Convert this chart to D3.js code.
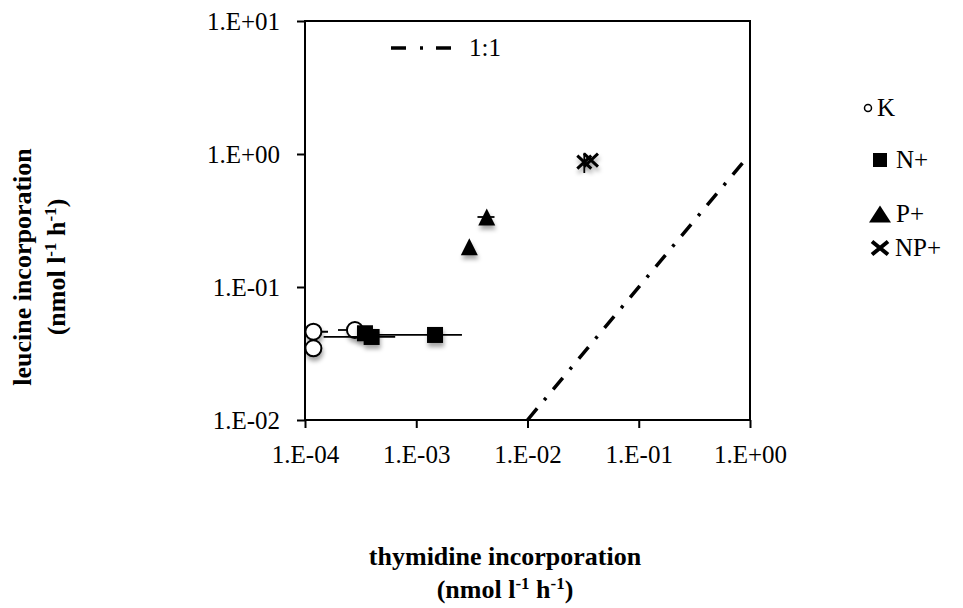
<!DOCTYPE html>
<html>
<head>
<meta charset="utf-8">
<script src="https://cdn.jsdelivr.net/npm/d3@7"></script>
<style>
body { margin: 0; background: #fff; }
svg text { font-family: "Liberation Serif", "Times New Roman", serif; fill: #000; }
</style>
</head>
<body>
<svg width="963" height="608"></svg>
<script>
// data (thymidine = x, leucine = y)
var kX = [1.19e-4, 1.19e-4, 2.81e-4],
    kY = [0.0461, 0.0346, 0.0475],
    kXErr = [0.42e-4, 0, 0.83e-4];

var nX = [3.46e-4, 3.97e-4, 1.475e-3],
    nY = [0.0449, 0.0421, 0.0436],
    nXErr = [0, 2.5e-4, 1.1e-3];

var pX = [3.0e-3, 4.3e-3],
    pY = [0.201, 0.336],
    pXErr = [0, 0.75e-3];

var npX = [0.0324, 0.0372],
    npY = [0.87, 0.90],
    npYErr = [0.15, 0];

var oneToOne = [0.01, 0.86];

var xTicks = [1e-4, 1e-3, 1e-2, 1e-1, 1],
    yTicks = [1e-2, 1e-1, 1, 10];

var seriesNames = ["K", "N+", "P+", "NP+"];

var svg = d3.select("svg"),
    margin = { top: 21, right: 213, bottom: 188, left: 305 },
    width = +svg.attr("width") - margin.left - margin.right,
    height = +svg.attr("height") - margin.top - margin.bottom;

var x = d3.scaleLog().domain([1e-4, 1]).range([0, width]),
    y = d3.scaleLog().domain([1e-2, 10]).range([height, 0]);

// Excel style "1.E-04"
function sci(d) {
    var e = Math.round(Math.log10(d));
    return "1.E" + (e < 0 ? "-" : "+") + String(Math.abs(e)).padStart(2, "0");
}

var defs = svg.append("defs");
defs.append("clipPath").attr("id", "plotclip")
    .append("rect").attr("width", width).attr("height", height);
var f = defs.append("filter").attr("id", "shadow")
    .attr("x", "-50%").attr("y", "-50%").attr("width", "200%").attr("height", "200%");
f.append("feDropShadow").attr("dx", 1).attr("dy", 4).attr("stdDeviation", 2)
    .attr("flood-color", "#000").attr("flood-opacity", 0.35);

var g = svg.append("g")
    .attr("transform", "translate(" + margin.left + "," + margin.top + ")");

// assen
g.append("g")
    .attr("transform", "translate(0," + height + ")")
    .call(d3.axisBottom(x).tickValues(xTicks).tickFormat(sci).tickSize(8).tickSizeOuter(0))
    .call(function (a) {
        a.select(".domain").remove();
        a.selectAll("line").attr("stroke", "#000").attr("stroke-width", 2);
        a.selectAll("text").attr("y", 43).attr("dy", 0)
            .attr("font-size", "25px").attr("fill", "#000");
    });

g.append("g")
    .call(d3.axisLeft(y).tickValues(yTicks).tickFormat(sci).tickSize(8).tickSizeOuter(0))
    .call(function (a) {
        a.select(".domain").remove();
        a.selectAll("line").attr("stroke", "#000").attr("stroke-width", 2);
        a.selectAll("text").attr("x", -25).attr("dy", "0.35em")
            .attr("font-size", "25px").attr("fill", "#000");
    });

g.append("rect")
    .attr("width", width).attr("height", height)
    .attr("fill", "none").attr("stroke", "#000").attr("stroke-width", 2);

var plot = g.append("g").attr("clip-path", "url(#plotclip)");

// 1:1 lijn
plot.append("path")
    .datum(oneToOne)
    .attr("fill", "none").attr("stroke", "#000").attr("stroke-width", 3.5)
    .attr("stroke-dasharray", "15,11,3,11")
    .attr("d", d3.line().x(function (d) { return x(d); }).y(function (d) { return y(d); }));

function zip(xs, ys, xe, ye) {
    return xs.map(function (v, i) {
        return { x: v, y: ys[i], xe: xe ? xe[i] : 0, ye: ye ? ye[i] : 0 };
    });
}

var kData = zip(kX, kY, kXErr),
    nData = zip(nX, nY, nXErr),
    pData = zip(pX, pY, pXErr),
    npData = zip(npX, npY, null, npYErr);

function errorBars(data) {
    var eb = plot.append("g").attr("stroke", "#000").attr("stroke-width", 1.8);
    eb.selectAll(".xe").data(data.filter(function (d) { return d.xe > 0; }))
        .enter().append("line")
        .attr("x1", function (d) { return x(Math.max(d.x - d.xe, 1e-6)); })
        .attr("x2", function (d) { return x(d.x + d.xe); })
        .attr("y1", function (d) { return y(d.y); })
        .attr("y2", function (d) { return y(d.y); });
    eb.selectAll(".ye").data(data.filter(function (d) { return d.ye > 0; }))
        .enter().append("line")
        .attr("x1", function (d) { return x(d.x); })
        .attr("x2", function (d) { return x(d.x); })
        .attr("y1", function (d) { return y(d.y - d.ye); })
        .attr("y2", function (d) { return y(d.y + d.ye); });
}

function tri(w, h) {
    return "M0," + (-h / 2) + "L" + (w / 2) + "," + (h / 2) + "L" + (-w / 2) + "," + (h / 2) + "Z";
}
function cross(w, h) {
    return "M" + (-w / 2) + "," + (-h / 2) + "L" + (w / 2) + "," + (h / 2) +
        "M" + (-w / 2) + "," + (h / 2) + "L" + (w / 2) + "," + (-h / 2);
}

// K
errorBars(kData);
plot.append("g").attr("filter", "url(#shadow)")
    .selectAll("circle").data(kData).enter().append("circle")
    .attr("cx", function (d) { return x(d.x); })
    .attr("cy", function (d) { return y(d.y); })
    .attr("r", 8)
    .attr("fill", "#fff").attr("stroke", "#000").attr("stroke-width", 2);

// N+
errorBars(nData);
plot.append("g").attr("filter", "url(#shadow)")
    .selectAll("rect").data(nData).enter().append("rect")
    .attr("x", function (d) { return x(d.x) - 8; })
    .attr("y", function (d) { return y(d.y) - 8; })
    .attr("width", 16).attr("height", 16)
    .attr("fill", "#000");

// P+
errorBars(pData);
plot.append("g").attr("filter", "url(#shadow)")
    .selectAll("path").data(pData).enter().append("path")
    .attr("transform", function (d) { return "translate(" + x(d.x) + "," + y(d.y) + ")"; })
    .attr("d", tri(17, 17))
    .attr("fill", "#000");

// NP+
errorBars(npData);
plot.append("g").attr("filter", "url(#shadow)")
    .selectAll("path").data(npData).enter().append("path")
    .attr("transform", function (d) { return "translate(" + x(d.x) + "," + y(d.y) + ")"; })
    .attr("d", cross(14, 13))
    .attr("fill", "none").attr("stroke", "#000").attr("stroke-width", 3);

// legenda 1:1 in de grafiek
var l1 = svg.append("g").attr("transform", "translate(391,48)");
l1.append("line").attr("x1", 0).attr("x2", 60)
    .attr("stroke", "#000").attr("stroke-width", 3.5)
    .attr("stroke-dasharray", "15,14,3,13");
l1.append("text").attr("x", 78).attr("dy", "0.32em").attr("font-size", "25px").text("1:1");

// legenda rechts
var legendY = [108, 160, 214, 248],
    legendMarkX = [868, 880, 880, 880],
    legendTextX = [877, 896, 896, 895];
var leg = svg.append("g");
var items = leg.selectAll("g").data(seriesNames).enter().append("g")
    .attr("transform", function (d, i) { return "translate(0," + legendY[i] + ")"; });
items.append("text")
    .attr("x", function (d, i) { return legendTextX[i]; })
    .attr("dy", "0.32em").attr("font-size", "25px")
    .text(function (d) { return d; });
items.each(function (d, i) {
    var s = d3.select(this).append("g")
        .attr("transform", "translate(" + legendMarkX[i] + ",0)");
    if (i === 0) s.append("circle").attr("r", 3.5).attr("fill", "#fff")
        .attr("stroke", "#000").attr("stroke-width", 1.5);
    if (i === 1) s.append("rect").attr("x", -7).attr("y", -7).attr("width", 14).attr("height", 14);
    if (i === 2) s.append("path").attr("d", tri(22, 17));
    if (i === 3) s.append("path").attr("d", cross(16, 13))
        .attr("fill", "none").attr("stroke", "#000").attr("stroke-width", 4);
});

// as titels
var yt = svg.append("text")
    .attr("transform", "translate(31,267) rotate(-90)")
    .attr("text-anchor", "middle").attr("font-size", "26px").attr("font-weight", "bold");
yt.append("tspan").attr("x", 0).attr("y", 0).text("leucine incorporation");
var yt2 = yt.append("tspan").attr("x", 0).attr("y", 34);
yt2.append("tspan").text("(nmol l");
yt2.append("tspan").attr("dy", -9).attr("font-size", "17px").text("-1");
yt2.append("tspan").attr("dy", 9).text(" h");
yt2.append("tspan").attr("dy", -9).attr("font-size", "17px").text("-1");
yt2.append("tspan").attr("dy", 9).text(")");

var xt = svg.append("text")
    .attr("transform", "translate(505,565)")
    .attr("text-anchor", "middle").attr("font-size", "26px").attr("font-weight", "bold");
xt.append("tspan").attr("x", 0).attr("y", 0).text("thymidine incorporation");
var xt2 = xt.append("tspan").attr("x", 0).attr("y", 33);
xt2.append("tspan").text("(nmol l");
xt2.append("tspan").attr("dy", -9).attr("font-size", "17px").text("-1");
xt2.append("tspan").attr("dy", 9).text(" h");
xt2.append("tspan").attr("dy", -9).attr("font-size", "17px").text("-1");
xt2.append("tspan").attr("dy", 9).text(")");
</script>
</body>
</html>
